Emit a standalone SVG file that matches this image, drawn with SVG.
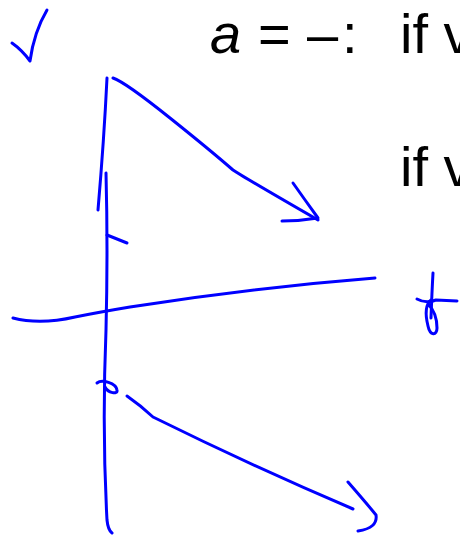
<svg xmlns="http://www.w3.org/2000/svg" width="460" height="536" viewBox="0 0 460 536">
<style>
.ink{fill:none;stroke:#0000ff;stroke-width:3;stroke-linecap:round;stroke-linejoin:round}
.t{font-family:"Liberation Sans",Arial,sans-serif;font-size:56px;fill:#000}
</style>
<rect width="460" height="536" fill="#fff"/>
<g id="text">
<text class="t" y="53"><tspan x="210" font-style="italic">a</tspan><tspan x="258">=</tspan><tspan x="307">–</tspan><tspan x="342">:</tspan><tspan x="400">if v</tspan></text>
<text class="t" x="400" y="186">if v</text>
</g>
<g id="check">
<path class="ink" d="M12,43 Q22,50 30,61 Q34,32 47,10"/>
</g>
<g id="axes">
<path class="ink" d="M107,78 Q104,140 98,210"/>
<path class="ink" d="M106,173 Q108,250 106,330 Q102,430 107,520 Q108,530 112,533"/>
<path class="ink" d="M107,235 L127,243"/>
<path class="ink" d="M13,318 Q40,325 75,317 Q100,312 130,307 Q250,288 375,278"/>
</g>
<g id="upper-arrow">
<path class="ink" d="M113,78 Q125,82 170,118 Q210,150 233,170 Q245,178 318,220"/>
<path class="ink" d="M293,183 Q305,200 318,218 Q300,221 282,221"/>
</g>
<g id="lower-arrow">
<path class="ink" d="M97,383 C102,379 116,383 117,390 C118,395 108,393 105,387"/>
<path class="ink" d="M127,396 Q140,405 153,417 Q250,465 353,509"/>
<path class="ink" d="M348,482 Q368,505 376,515 Q378,528 358,531"/>
</g>
<g id="f-symbol">
<path class="ink" d="M433,273 Q432,290 431,318"/>
<path class="ink" d="M417,299 Q426,304 436,300 L457,301"/>
<path class="ink" d="M431,300 C424,306 426,318 428,326 C430,336 437,336 437,328 C437,318 433,309 428,304"/>
</g>
</svg>
